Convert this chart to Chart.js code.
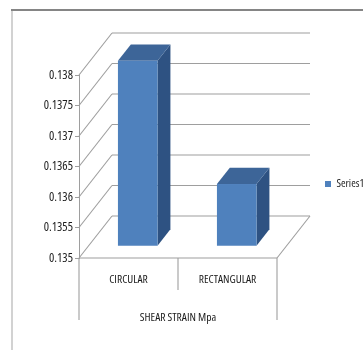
<!DOCTYPE html>
<html>
<head>
<meta charset="utf-8">
<script src="https://cdn.jsdelivr.net/npm/chart.js@4/dist/chart.umd.min.js"></script>
<style>
  html, body { margin: 0; padding: 0; background: #fff; }
  canvas { display: block; }
</style>
</head>
<body>
<canvas id="strainChart" width="363" height="350"></canvas>
<script>
const categories = ['CIRCULAR', 'RECTANGULAR'];
const shearStrain = [0.13804, 0.13602];
const yTickValues = [0.135, 0.1355, 0.136, 0.1365, 0.137, 0.1375, 0.138];

// narrow labels: Open Sans with its condensed width ("condensed" lands in the font string)
const FONT = "'Open Sans', sans-serif";
const NARROW = 'condensed';
const GRID = '#9e9e9e';
const TEXT = '#1c1c1c';

// depth of the 3d box and where the columns sit inside it
const depth = { dx: 33, dy: -42 };
const colFront = 0.28, colBack = 0.67;
const faceColors = { front: '#4f81bd', top: '#3d6598', side: '#2e5282' };

function line(ctx, x1, y1, x2, y2) {
  ctx.beginPath();
  ctx.moveTo(x1, y1);
  ctx.lineTo(x2, y2);
  ctx.stroke();
}

const box3d = {
  id: 'box3d',
  beforeDraw(chart) {
    const ctx = chart.ctx;
    ctx.save();
    ctx.fillStyle = '#fff';
    ctx.fillRect(0, 0, chart.width, chart.height);
    // frame of the chart object
    ctx.fillStyle = '#d2d2d2';
    ctx.fillRect(11, 9, 2, chart.height - 9);
    ctx.fillStyle = '#858585';
    ctx.fillRect(11, 9, chart.width - 11, 2);
    ctx.restore();
  },
  beforeDatasetsDraw(chart) {
    const ctx = chart.ctx;
    const { left, right, bottom } = chart.chartArea;
    const y = chart.scales.y;
    const x = chart.scales.x;
    ctx.save();
    ctx.strokeStyle = GRID;
    ctx.lineWidth = 1.1;
    // back wall gridlines and side wall diagonals
    yTickValues.forEach(v => {
      const py = y.getPixelForValue(v);
      line(ctx, left + depth.dx, py + depth.dy, right + depth.dx, py + depth.dy);
      line(ctx, left, py, left + depth.dx, py + depth.dy);
    });
    // floor
    line(ctx, left, bottom, right, bottom);
    line(ctx, right, bottom, right + depth.dx, bottom + depth.dy);
    // category table under the floor
    const mid = (x.getPixelForValue(0) + x.getPixelForValue(1)) / 2;
    line(ctx, left, bottom, left, 320);
    line(ctx, right, bottom, right, 320);
    line(ctx, mid, bottom, mid, 290);
    ctx.restore();
  },
  beforeDatasetDraw(chart, args) {
    const ctx = chart.ctx;
    const fx = colFront * depth.dx, fy = colFront * depth.dy;
    const bx = (colBack - colFront) * depth.dx, by = (colBack - colFront) * depth.dy;
    ctx.save();
    args.meta.data.forEach(bar => {
      const p = bar.getProps(['x', 'y', 'base', 'width'], true);
      const x0 = p.x - p.width / 2 + fx, x1 = p.x + p.width / 2 + fx;
      const yt = p.y + fy, yb = p.base + fy;
      // right side
      ctx.fillStyle = faceColors.side;
      ctx.beginPath();
      ctx.moveTo(x1, yt);
      ctx.lineTo(x1 + bx, yt + by);
      ctx.lineTo(x1 + bx, yb + by);
      ctx.lineTo(x1, yb);
      ctx.closePath();
      ctx.fill();
      // top
      ctx.fillStyle = faceColors.top;
      ctx.beginPath();
      ctx.moveTo(x0, yt);
      ctx.lineTo(x0 + bx, yt + by);
      ctx.lineTo(x1 + bx, yt + by);
      ctx.lineTo(x1, yt);
      ctx.closePath();
      ctx.fill();
      // front
      ctx.fillStyle = faceColors.front;
      ctx.fillRect(x0, yt, x1 - x0, yb - yt);
    });
    ctx.restore();
    return false;
  }
};

new Chart(document.getElementById('strainChart'), {
  type: 'bar',
  data: {
    labels: categories,
    datasets: [{
      label: 'Series1',
      data: shearStrain,
      base: yTickValues[0],
      backgroundColor: faceColors.front,
      borderWidth: 0,
      barPercentage: 0.4,
      categoryPercentage: 1
    }]
  },
  options: {
    responsive: false,
    devicePixelRatio: 1,
    animation: false,
    layout: { padding: { top: 75, left: 0, right: 0, bottom: 0 } },
    plugins: {
      tooltip: { enabled: false },
      legend: {
        position: 'right',
        fullSize: false,
        maxWidth: 86,
        title: { display: true, text: ' ', font: { family: FONT, size: 10 }, padding: { top: 23, bottom: 0 } },
        labels: {
          boxWidth: 6,
          boxHeight: 6,
          padding: 48,
          color: TEXT,
          font: { family: FONT, weight: NARROW, size: 11 }
        }
      }
    },
    scales: {
      x: {
        grid: { display: false, drawTicks: false },
        border: { display: false },
        ticks: { color: TEXT, padding: 15, font: { family: FONT, weight: NARROW, size: 11.5 } },
        title: {
          display: true,
          text: 'SHEAR STRAIN Mpa',
          color: TEXT,
          font: { family: FONT, weight: NARROW, size: 11.5 },
          padding: { top: 0, bottom: 25 }
        },
        afterFit: s => { s.height = 92; }
      },
      y: {
        min: 0.135,
        max: 0.138,
        grid: { drawOnChartArea: false, drawTicks: true, tickLength: 4, color: GRID },
        border: { display: true, color: GRID },
        ticks: {
          color: TEXT,
          padding: 2,
          font: { family: FONT, weight: NARROW, size: 12.5 },
          callback: v => String(+v.toFixed(4))
        },
        afterBuildTicks: s => { s.ticks = yTickValues.map(v => ({ value: v })); },
        afterFit: s => { s.width = 79; }
      }
    }
  },
  plugins: [box3d]
});
</script>
</body>
</html>
